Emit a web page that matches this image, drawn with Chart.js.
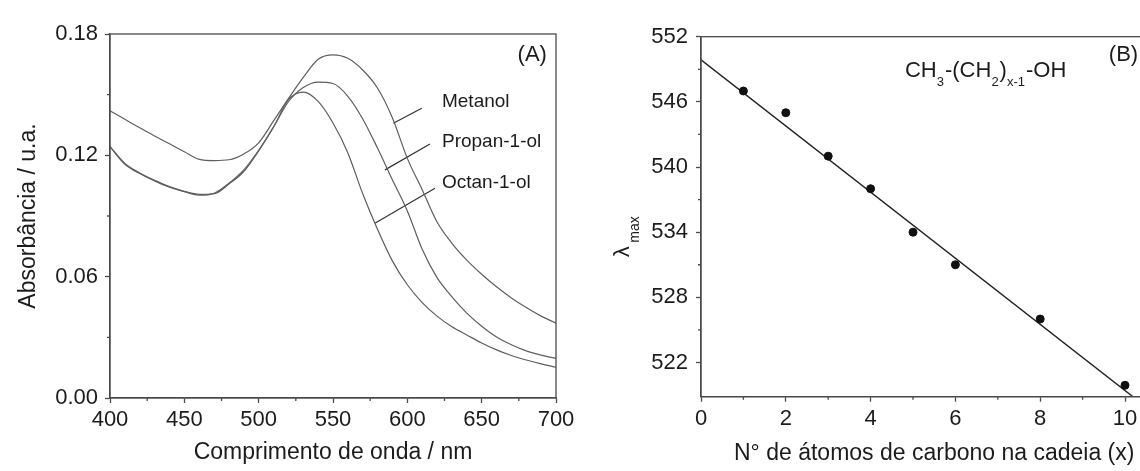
<!DOCTYPE html>
<html>
<head>
<meta charset="utf-8">
<script src="https://cdn.jsdelivr.net/npm/chart.js@4.4.1/dist/chart.umd.min.js"></script>
<style>
    html, body { margin: 0; padding: 0; background: #fff; overflow: hidden; }
    #wrap { position: relative; width: 1140px; height: 471px; overflow: hidden; }
    #chartA { position: absolute; left: 0; top: 0; }
    #chartB { position: absolute; left: 570px; top: 0; }
</style>
</head>
<body>
<div id="wrap">
    <canvas id="chartA" width="600" height="471"></canvas>
    <canvas id="chartB" width="640" height="471"></canvas>
</div>
<script>
// ---- panel (A): absorption spectra ----
const wavelength = [400, 410, 420, 430, 440, 450, 460, 470, 480, 490, 500, 510, 520, 530, 540, 550,
    560, 570, 580, 590, 600, 610, 620, 630, 640, 650, 660, 670, 680, 690, 700];
const metanol = [0.1420, 0.1378, 0.1336, 0.1296, 0.1257, 0.1218, 0.1180, 0.1174, 0.1178, 0.1207, 0.1262,
    0.1370, 0.1480, 0.1585, 0.1675, 0.1697, 0.1680, 0.1622, 0.1532, 0.1385, 0.1185, 0.1030, 0.0870,
    0.0765, 0.0682, 0.0612, 0.0550, 0.0495, 0.0447, 0.0405, 0.0370];
const propanol = [0.1243, 0.1160, 0.1113, 0.1077, 0.1045, 0.1022, 0.1007, 0.1010, 0.1058, 0.1120, 0.1222,
    0.1340, 0.1465, 0.1535, 0.1562, 0.1555, 0.1492, 0.1380, 0.1235, 0.1078, 0.0925, 0.0735, 0.0595,
    0.0500, 0.0420, 0.0355, 0.0302, 0.0263, 0.0233, 0.0212, 0.0196];
const octanol = [0.1243, 0.1156, 0.1110, 0.1073, 0.1042, 0.1020, 0.1003, 0.1012, 0.1062, 0.1128, 0.1225,
    0.1340, 0.1475, 0.1513, 0.1467, 0.1360, 0.1212, 0.1010, 0.0833, 0.0677, 0.0560, 0.0472, 0.0405,
    0.0352, 0.0312, 0.0272, 0.0238, 0.0210, 0.0188, 0.0169, 0.0152];
const seriesNames = ["Metanol", "Propan-1-ol", "Octan-1-ol"];
const nameX = [623.3, 623.3, 623.3];
const nameY = [0.1465, 0.1268, 0.1062];
const leaderX = [[590.6, 609.7], [585.0, 615.2], [578.2, 618.6]];
const leaderY = [[0.1359, 0.1433], [0.1128, 0.1256], [0.0864, 0.1037]];
const xTicksA = [400, 450, 500, 550, 600, 650, 700];
const xMinorA = [425, 475, 525, 575, 625, 675];
const yTicksA = [0, 0.06, 0.12, 0.18];
const yMinorA = [0.03, 0.09, 0.15];

// ---- panel (B): lambda max vs chain length ----
const carbons = [1, 2, 3, 4, 5, 6, 8, 10];
const lambdaMax = [547.0, 545.0, 541.0, 538.0, 534.0, 531.0, 526.0, 519.9];
const fitX = [0, 10.19];
const fitY = [549.87, 518.84];
const xTicksB = [0, 2, 4, 6, 8, 10];
const xMinorB = [1, 3, 5, 7, 9];
const yTicksB = [522, 528, 534, 540, 546, 552];
const yMinorB = [525, 531, 537, 543, 549];

const FONT = "'Liberation Sans', Arial, sans-serif";
const AXIS = "#4a4a4a";
const TEXT = "#1c1c1c";
Chart.defaults.font.family = FONT;
Chart.defaults.color = TEXT;

function pts(xs, ys) {
    return xs.map((x, i) => ({ x: x, y: ys[i] }));
}

// frame box + short minor ticks, then any extra text
function decor(minorX, minorY, extra) {
    return {
        id: "decor",
        afterDraw(chart) {
            const { ctx, chartArea: a, scales } = chart;
            ctx.save();
            ctx.strokeStyle = AXIS;
            ctx.lineWidth = 1.3;
            ctx.strokeRect(a.left, a.top, a.right - a.left, a.bottom - a.top);
            ctx.beginPath();
            minorX.forEach((v) => {
                const p = scales.x.getPixelForValue(v);
                ctx.moveTo(p, a.bottom);
                ctx.lineTo(p, a.bottom + 3);
            });
            minorY.forEach((v) => {
                const p = scales.y.getPixelForValue(v);
                ctx.moveTo(a.left, p);
                ctx.lineTo(a.left - 3, p);
            });
            ctx.stroke();
            ctx.fillStyle = TEXT;
            if (extra) extra(chart, ctx, scales);
            ctx.restore();
        },
    };
}

function axisX(min, max, ticks, height, title, bottomPad) {
    return {
        type: "linear", min: min, max: max,
        afterBuildTicks: (s) => { s.ticks = ticks.map((v) => ({ value: v })); },
        afterFit: (s) => { s.height = height; },
        grid: { drawOnChartArea: false, tickLength: 5, tickColor: AXIS, tickWidth: 1.3 },
        border: { color: AXIS, width: 1.3 },
        ticks: { font: { size: 22 }, color: TEXT, padding: 4, maxRotation: 0, autoSkip: false },
        title: { display: true, text: title, color: TEXT, font: { size: 23, lineHeight: 1.2 },
            padding: { top: 0, bottom: bottomPad } },
    };
}

function axisY(min, max, ticks, width, fmt, pad) {
    return {
        type: "linear", min: min, max: max,
        afterBuildTicks: (s) => { s.ticks = ticks.map((v) => ({ value: v })); },
        afterFit: (s) => { s.width = width; },
        grid: { drawOnChartArea: false, tickLength: 5, tickColor: AXIS, tickWidth: 1.3 },
        border: { color: AXIS, width: 1.3 },
        ticks: { font: { size: 22 }, color: TEXT, padding: pad, autoSkip: false, callback: fmt },
    };
}

const common = {
    responsive: false,
    animation: false,
    events: [],
    plugins: { legend: { display: false }, tooltip: { enabled: false } },
};

/* =======================
   Panel A
   ======================= */
const spectra = [metanol, propanol, octanol].map((ys) => ({
    data: pts(wavelength, ys),
    borderColor: "#5e5e5e",
    borderWidth: 1.2,
    pointRadius: 0,
    cubicInterpolationMode: "monotone",
}));
const leaders = leaderX.map((xs, i) => ({
    data: pts(xs, leaderY[i]),
    borderColor: "#333",
    borderWidth: 1.2,
    pointRadius: 0,
}));

const optsA = Object.assign({}, common, {
    layout: { padding: { top: 34, right: 44, left: 0, bottom: 0 } },
    scales: {
        x: axisX(400, 700, xTicksA, 73, "Comprimento de onda / nm", 4.2),
        y: Object.assign(axisY(0, 0.18, yTicksA, 110, (v) => v.toFixed(2), 7), {
            title: { display: true, text: "Absorbância / u.a.", color: TEXT,
                font: { size: 23, lineHeight: 1.2 }, padding: { top: 15, bottom: 0 } },
        }),
    },
});

new Chart(document.getElementById("chartA"), {
    type: "line",
    data: { datasets: spectra.concat(leaders) },
    options: optsA,
    plugins: [decor(xMinorA, yMinorA, (chart, ctx, s) => {
        ctx.font = "19px " + FONT;
        ctx.textAlign = "left";
        ctx.textBaseline = "middle";
        seriesNames.forEach((name, i) => {
            ctx.fillText(name, s.x.getPixelForValue(nameX[i]), s.y.getPixelForValue(nameY[i]));
        });
        ctx.font = "22px " + FONT;
        ctx.textAlign = "right";
        ctx.fillText("(A)", s.x.getPixelForValue(693.9), s.y.getPixelForValue(0.1696));
    })],
});

/* =======================
   Panel B
   ======================= */
const optsB = Object.assign({}, common, {
    layout: { padding: { top: 36.7, right: 42.6, left: 0, bottom: 0 } },
    scales: {
        x: axisX(0, 11, xTicksB, 74.3, "N° de átomos de carbono na cadeia (x)", 3.2),
        y: axisY(518.85, 552, yTicksB, 131, (v) => v, 8),
    },
});

new Chart(document.getElementById("chartB"), {
    type: "scatter",
    data: {
        datasets: [
            {
                data: pts(carbons, lambdaMax),
                backgroundColor: "#111",
                borderColor: "#111",
                pointRadius: 4,
                showLine: false,
            },
            {
                data: pts(fitX, fitY),
                borderColor: "#222",
                borderWidth: 1.4,
                pointRadius: 0,
                showLine: true,
            },
        ],
    },
    options: optsB,
    plugins: [decor(xMinorB, yMinorB, (chart, ctx, s) => {
        // y title: lambda with "max" subscript, rotated
        ctx.save();
        ctx.translate(52.5, 251.7);
        ctx.rotate(-Math.PI / 2);
        ctx.textBaseline = "middle";
        ctx.textAlign = "center";
        ctx.font = "22px " + FONT;
        ctx.fillText("λ", 0, 0);
        ctx.textAlign = "left";
        ctx.font = "14px " + FONT;
        ctx.fillText("max", 9, 13);
        ctx.restore();

        // formula with subscripts
        const parts = [["CH", 0], ["3", 1], ["-(CH", 0], ["2", 1], [")", 0], ["x-1", 1], ["-OH", 0]];
        let px = s.x.getPixelForValue(4.81);
        const base = s.y.getPixelForValue(548.32);
        ctx.textAlign = "left";
        ctx.textBaseline = "alphabetic";
        parts.forEach(([t, sub]) => {
            ctx.font = (sub ? "13px " : "22px ") + FONT;
            ctx.fillText(t, px, sub ? base + 9 : base);
            px += ctx.measureText(t).width + (sub ? 1 : 0);
        });

        ctx.font = "22px " + FONT;
        ctx.textAlign = "right";
        ctx.textBaseline = "middle";
        ctx.fillText("(B)", s.x.getPixelForValue(10.31), s.y.getPixelForValue(550.3));
    })],
});
</script>
</body>
</html>
